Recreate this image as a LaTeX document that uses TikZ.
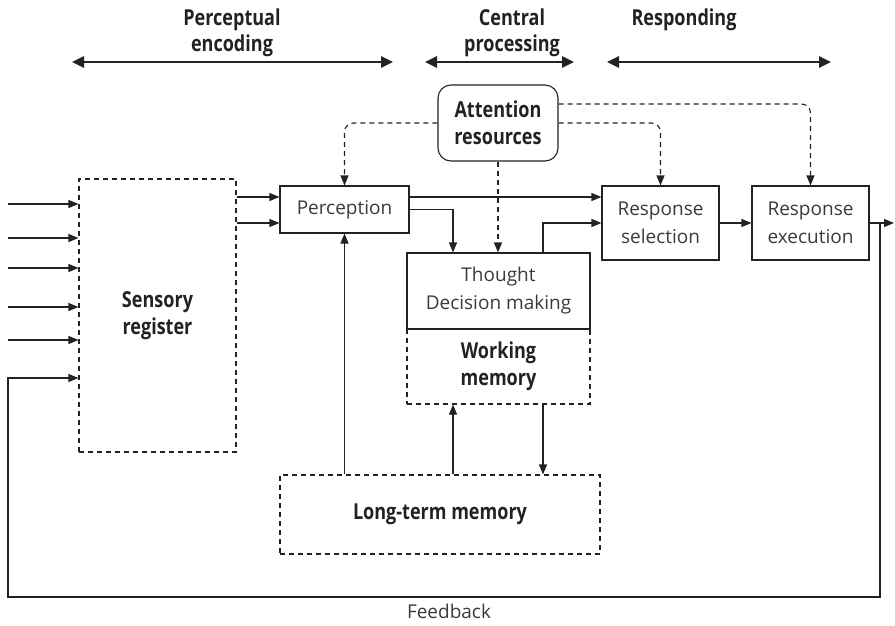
\documentclass[tikz,border=0pt]{standalone}
\usepackage{fontspec}
\setmainfont{Open Sans}
\newfontfamily\condb{Open Sans}[FakeStretch=0.82]
\usetikzlibrary{arrows.meta,calc}
\definecolor{ink}{HTML}{222222}
\definecolor{txt}{HTML}{3a3a3a}
\begin{document}
\begin{tikzpicture}[x=1pt,y=-1pt,
  box/.style={draw=ink, line width=1.1pt, inner sep=0pt, align=center,
    font=\fontsize{19}{28}\selectfont, text=txt},
  dbox/.style={draw=ink, line width=1.1pt, dash pattern=on 5pt off 4pt, inner sep=0pt, align=center,
    font=\condb\bfseries\fontsize{22}{27}\selectfont, text=ink},
  lbl/.style={align=center, font=\condb\bfseries\fontsize{22}{26}\selectfont, text=ink},
  conn/.style={draw=ink, line width=1.1pt, -{Triangle[length=10pt,width=8pt]}},
  plain/.style={draw=ink, line width=1.1pt},
  dconn/.style={draw=ink, line width=1.1pt, dash pattern=on 5pt off 4pt, rounded corners=9pt,
    -{Triangle[length=10pt,width=8pt]}},
  span/.style={draw=ink, line width=2.6pt, {Triangle[length=12pt,width=11pt]}-{Triangle[length=12pt,width=11pt]}}
]
\useasboundingbox (0,0) rectangle (895,625);

% top phase labels
\node[lbl] (lpe) at (232,33) {Perceptual\\encoding};
\node[lbl] (lcp) at (512,33) {Central\\processing};
\node[lbl] (lrs) at (684,20) {Responding};
\coordinate (pa1) at (72,62); \coordinate (pa2) at (393,62);
\coordinate (pb1) at (425,62); \coordinate (pb2) at (574,62);
\coordinate (pc1) at (607,62); \coordinate (pc2) at (831,62);
\draw[span] (pa1) -- (pa2);
\draw[span] (pb1) -- (pb2);
\draw[span] (pc1) -- (pc2);

% boxes
\node[dbox, minimum width=157pt, minimum height=273pt] (sens) at (157.5,315.5) {Sensory\\register};
\node[box, minimum width=129pt, minimum height=47pt] (perc) at (344.5,209.5) {Perception};
\node[box, draw=ink, rounded corners=13pt, minimum width=120pt, minimum height=76pt,
  font=\condb\bfseries\fontsize{22}{27}\selectfont, text=ink] (att) at (498,123) {Attention\\resources};
\node[dbox, minimum width=183pt, minimum height=75pt] (wm) at (498.5,366.5) {Working\\memory};
\node[box, minimum width=183pt, minimum height=76pt] (th) at (498.5,291) {Thought\\Decision making};
\node[box, minimum width=117pt, minimum height=74pt] (sel) at (660.5,223) {Response\\selection};
\node[box, minimum width=117pt, minimum height=74pt] (exe) at (810.5,223) {Response\\execution};
\node[dbox, minimum width=320pt, minimum height=79pt] (ltm) at (440,514.5) {Long-term memory};
\node[font=\fontsize{19}{24}\selectfont, text=txt] (fbl) at (449,611) {Feedback};

% inputs to sensory register
\foreach \y [count=\i] in {204,238,268,307,340} {
  \coordinate (in\i) at (8,\y);
  \draw[conn] (in\i) -- (sens.west |- in\i);
}

% sensory -> perception
\coordinate (r1) at (0,197); \coordinate (r2) at (0,223);
\draw[conn] (sens.east |- r1) -- (perc.west |- r1);
\draw[conn] (sens.east |- r2) -- (perc.west |- r2);

% perception -> response selection
\draw[conn] (perc.east |- r1) -- (sel.west |- r1);
% perception -> thought
\coordinate (cx1) at (453,0); \coordinate (cx2) at (543,0);
\draw[conn] (perc.east) -| (th.north -| cx1);
% thought -> response selection
\draw[conn] (th.north -| cx2) |- (sel.west);
% selection -> execution
\draw[conn] (sel.east) -- (exe.west);

% attention (dashed)
\coordinate (ay) at (0,104);
\draw[dconn] (att.west) -| (perc.north);
\draw[dconn] (att.east) -| (sel.north);
\draw[dconn] (att.east |- ay) -| (exe.north);
\draw[dconn, rounded corners=0pt] (att.south) -- (th.north -| att.south);

% memory links
\draw[conn] (ltm.north -| perc.south) -- (perc.south);
\draw[conn] (ltm.north -| cx1) -- (wm.south -| cx1);
\draw[conn] (wm.south -| cx2) -- (ltm.north -| cx2);

% output and feedback
\coordinate (out) at (894,223);
\coordinate (fbt) at (880,223);
\coordinate (fbr) at (880,597);
\coordinate (fbl0) at (8,597);
\coordinate (fbin) at (8,378);
\draw[conn] (exe.east) -- (out);
\draw[conn] (fbt) -- (fbr) -- (fbl0) -- (fbin) -- (sens.west |- fbin);
\end{tikzpicture}
\end{document}
